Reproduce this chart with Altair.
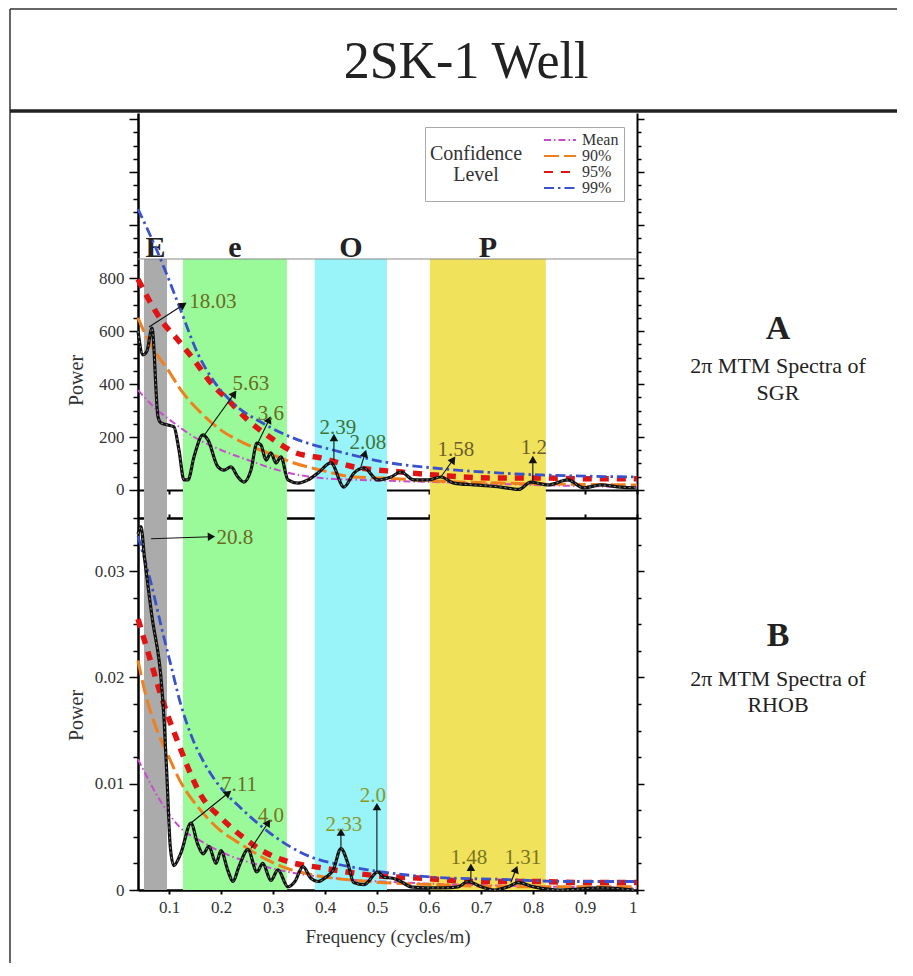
import math
import altair as alt
import pandas as pd

SERIF = "Liberation Serif"

# ---------------- data ----------------
# SGR spectrum (panel A)
top_freq = [0.040, 0.0496, 0.0573, 0.0669, 0.0785, 0.0842, 0.0977, 0.1092, 0.1188, 0.1285,
            0.1362, 0.1477, 0.165, 0.1746, 0.1938, 0.2054, 0.2188, 0.2323, 0.2438, 0.2573,
            0.2688, 0.2765, 0.2862, 0.2958, 0.3054, 0.315, 0.3285, 0.3477, 0.3669, 0.3862,
            0.4112, 0.4362, 0.4554, 0.4746, 0.5015, 0.5265, 0.5458, 0.5708, 0.5977, 0.6227,
            0.6477, 0.6862, 0.7381, 0.7727, 0.7958, 0.8285, 0.8669, 0.8977, 0.9304, 0.9688, 0.9977]
top_power = [600, 510, 525, 611, 276, 253, 245, 238, 151, 38,
             38, 125, 208, 189, 87, 75, 87, 49, 30, 75,
             177, 170, 113, 140, 102, 125, 38, 26, 38, 64,
             102, 11, 64, 83, 38, 49, 68, 38, 38, 49,
             26, 19, 11, 2, 30, 19, 38, 8, 19, 11, 8]

# RHOB spectrum (panel B)
bot_freq = [0.040, 0.0458, 0.052, 0.0667, 0.0859, 0.0904, 0.0962, 0.1019, 0.1087, 0.1227,
            0.1419, 0.155, 0.165, 0.1765, 0.19, 0.1996, 0.2131, 0.2227, 0.2342, 0.2515,
            0.2688, 0.28, 0.2958, 0.3092, 0.3285, 0.3419, 0.3573, 0.3727, 0.3862, 0.4015,
            0.4158, 0.4304, 0.4438, 0.455, 0.475, 0.5015, 0.5131, 0.53, 0.5458, 0.565,
            0.5977, 0.6285, 0.6554, 0.675, 0.70, 0.725, 0.752, 0.7708, 0.8015, 0.8535, 0.93, 0.9938]
bot_power = [0.0335, 0.0342, 0.0315, 0.0258, 0.0190, 0.0158, 0.0101, 0.0042, 0.0023, 0.0035,
             0.0063, 0.0043, 0.0034, 0.0041, 0.0025, 0.0037, 0.0018, 0.0008, 0.0022, 0.0038,
             0.0017, 0.0025, 0.0009, 0.0019, 0.0003, 0.0008, 0.0022, 0.0011, 0.0008, 0.0012,
             0.0019, 0.0039, 0.0025, 0.0007, 0.0005, 0.0017, 0.0012, 0.0011, 0.0008, 0.0003,
             0.0002, 0.0002, 0.0003, 0.0008, 0.0003, 0.0, 0.0003, 0.0007, 0.0003, 0.0, 0.0002, 0.0]

# confidence levels, panel A
top_mean_f = [0.04, 0.0708, 0.1092, 0.1477, 0.1996, 0.2515, 0.3092, 0.3919, 0.4688, 0.6092, 0.8015, 1.0]
top_mean_p = [377, 313, 253, 200, 151, 113, 75, 45, 38, 30, 19, 11]
top_90_f = [0.04, 0.0458, 0.0708, 0.0977, 0.1227, 0.1612, 0.1996, 0.2438, 0.29, 0.34, 0.3919, 0.4554, 0.5131, 0.6092, 0.7381, 1.0]
top_90_p = [650, 623, 528, 453, 377, 291, 226, 177, 140, 102, 75, 49, 45, 34, 26, 19]
top_95_f = [0.04, 0.0612, 0.0842, 0.1169, 0.1477, 0.1804, 0.2131, 0.2515, 0.3015, 0.34, 0.3919, 0.4554, 0.5458, 0.6362, 0.7323, 0.8208, 0.9112, 1.0]
top_95_p = [795, 717, 642, 566, 491, 404, 340, 264, 189, 143, 121, 87, 68, 53, 45, 45, 42, 42]
top_99_f = [0.04, 0.065, 0.09, 0.12, 0.155, 0.186, 0.219, 0.282, 0.348, 0.417, 0.513, 0.609, 0.738, 1.0]
top_99_p = [1060, 955, 840, 690, 515, 410, 335, 250, 189, 150, 106, 83, 64, 49]

# confidence levels, panel B
bot_mean_f = [0.04, 0.0842, 0.1227, 0.1612, 0.2131, 0.2765, 0.34, 0.42, 0.55, 0.75, 1.0]
bot_mean_p = [0.0123, 0.0083, 0.0058, 0.0046, 0.0033, 0.0023, 0.0016, 0.0011, 0.0007, 0.0004, 0.0002]
bot_90_f = [0.04, 0.0515, 0.0708, 0.0977, 0.1227, 0.1554, 0.1938, 0.2381, 0.2823, 0.3285, 0.3785, 0.4823, 0.6092, 0.8015, 1.0]
bot_90_p = [0.0216, 0.0190, 0.0158, 0.0127, 0.0101, 0.0078, 0.0058, 0.0043, 0.0030, 0.0020, 0.0014, 0.0008, 0.0005, 0.0003, 0.0003]
bot_95_f = [0.04, 0.0554, 0.0688, 0.0842, 0.0996, 0.1169, 0.1362, 0.1612, 0.1996, 0.2438, 0.2823, 0.3342, 0.3919, 0.4881, 0.59, 0.6938, 0.7958, 0.8977, 1.0]
bot_95_p = [0.0255, 0.0230, 0.0208, 0.0183, 0.0161, 0.0139, 0.0115, 0.0089, 0.0068, 0.0049, 0.0036, 0.0026, 0.0021, 0.0014, 0.0011, 0.0008, 0.0008, 0.0007, 0.0007]
bot_99_f = [0.04, 0.065, 0.0842, 0.1035, 0.1227, 0.1419, 0.1669, 0.1996, 0.2381, 0.2823, 0.3285, 0.3785, 0.4169, 0.4823, 0.6092, 0.7381, 0.8669, 1.0]
bot_99_p = [0.0333, 0.0289, 0.0249, 0.0211, 0.0174, 0.0146, 0.0120, 0.0096, 0.0077, 0.0058, 0.0042, 0.0030, 0.0025, 0.0019, 0.0012, 0.0010, 0.0008, 0.0008]

levels = ["Mean", "90%", "95%", "99%"]
level_colors = ["#c84bd0", "#f0801e", "#e01414", "#3a52cc"]
level_dash = [[7, 3, 1.5, 3], [15, 5], [9, 8], [10, 4, 2.5, 4]]
level_width = [2.0, 3.0, 5.5, 2.8]

# frequency bands
band_names = ["E", "e", "O", "P"]
band_start = [0.0515, 0.1265, 0.380, 0.6015]
band_end = [0.0958, 0.3265, 0.519, 0.8246]
band_colors = ["#ababab", "#9afa9a", "#98f4f8", "#f1e25c"]

# period annotations (m), panel A
top_ann_text = ["18.03", "5.63", "3.6", "2.39", "2.08", "1.58", "1.2"]
top_ann_f0 = [0.0612, 0.165, 0.2688, 0.4169, 0.4688, 0.6227, 0.7996]
top_ann_p0 = [615, 200, 170, 113, 87, 49, 26]
top_ann_f1 = [0.1265, 0.2246, 0.2919, 0.4169, 0.4765, 0.6458, 0.7996]
top_ann_p1 = [698, 362, 264, 196, 136, 113, 113]
top_ann_tf = [0.1842, 0.2573, 0.2958, 0.4246, 0.4823, 0.6515, 0.8015]
top_ann_tp = [709, 400, 287, 234, 177, 151, 159]
top_ann_col = ["#6b6a1f", "#6b6a1f", "#6b6a1f", "#3f7436", "#3f7436", "#6b5e2a", "#6b5e2a"]

# period annotations (m), panel B
bot_ann_text = ["20.8", "7.11", "4.0", "2.33", "2.0", "1.48", "1.31"]
bot_ann_f0 = [0.065, 0.1419, 0.2573, 0.4304, 0.4996, 0.6804, 0.7573]
bot_ann_p0 = [0.03305, 0.0063, 0.0039, 0.0040, 0.0017, 0.0009, 0.0007]
bot_ann_f1 = [0.1804, 0.2131, 0.29, 0.4304, 0.4996, 0.6804, 0.7669]
bot_ann_p1 = [0.03324, 0.0091, 0.0063, 0.0054, 0.0078, 0.0021, 0.0019]
bot_ann_tf = [0.2265, 0.2342, 0.2958, 0.4362, 0.4919, 0.6765, 0.7804]
bot_ann_tp = [0.03315, 0.0099, 0.0070, 0.0061, 0.0088, 0.0030, 0.0030]
bot_ann_col = ["#6b6a1f", "#6b6a1f", "#7a7420", "#8a9a2a", "#8a9a2a", "#7a7420", "#7a7420"]

x_ticks = [0.1, 0.2, 0.3, 0.4, 0.5, 0.6, 0.7, 0.8, 0.9, 1.0]
top_ticks = list(range(0, 1401, 50))
bot_ticks = [i * 0.0025 for i in range(15)]

# ---------------- layout ----------------
W, H = 499, 777
X_DOMAIN = [0.04, 1.0]
TOP_DOMAIN = [-105.7, 1422.8]
TOP_RANGE = [405, 0]
BOT_DOMAIN = [0.0, 0.035]
BOT_RANGE = [777, 405]
KX = W / (X_DOMAIN[1] - X_DOMAIN[0])
KY_TOP = (TOP_RANGE[0] - TOP_RANGE[1]) / (TOP_DOMAIN[1] - TOP_DOMAIN[0])
KY_BOT = (BOT_RANGE[0] - BOT_RANGE[1]) / (BOT_DOMAIN[1] - BOT_DOMAIN[0])

xsc = alt.Scale(domain=X_DOMAIN, nice=False, zero=False)
ysc_top = alt.Scale(domain=TOP_DOMAIN, range=TOP_RANGE, nice=False, zero=False)
ysc_bot = alt.Scale(domain=BOT_DOMAIN, range=BOT_RANGE, nice=False, zero=False)

color_scale = alt.Scale(domain=levels, range=level_colors)
dash_scale = alt.Scale(domain=levels, range=level_dash)

legend = alt.Legend(
    title=["Confidence", "Level"], orient="none", legendX=287, legendY=14,
    titleOrient="left", titleFont=SERIF, titleFontSize=20, titleFontWeight="normal",
    titleColor="#333", titleAlign="center", titlePadding=-17, titleLineHeight=21,
    labelFont=SERIF, labelFontSize=16, labelColor="#333", labelOffset=14,
    symbolType="M-2.67,0H2.67", symbolSize=144, symbolStrokeWidth=2,
    strokeColor="#aaaaaa", fillColor="white", padding=5, rowPadding=0,
)


def conf_frame(parts):
    rows = []
    for lev, fs, ps in parts:
        for f, p in zip(fs, ps):
            rows.append({"f": f, "P": p, "level": lev})
    return pd.DataFrame(rows)


def arrow_frame(text, f0, p0, f1, p1, tf, tp, col, ky):
    ang = []
    for a, b, c, d in zip(f0, p0, f1, p1):
        dx = (c - a) * KX
        dy = -(d - b) * ky
        ang.append(math.degrees(math.atan2(dx, -dy)) % 360)
    return pd.DataFrame({"text": text, "f0": f0, "p0": p0, "f1": f1, "p1": p1,
                         "tf": tf, "tp": tp, "col": col, "ang": ang})


axis_common = dict(grid=False, domainColor="black", tickColor="black",
                   labelFont=SERIF, labelColor="#333", titleFont=SERIF,
                   titleFontWeight="normal", titleColor="#333")


def panel(spec_f, spec_p, conf_df, ann_df, ysc, yticks, major_test, label_expr,
          ytitle, ytitle_y, xaxis_conf, xaxis_spec):
    spec_df = pd.DataFrame({"f": spec_f, "P": spec_p})
    left_axis = alt.Axis(orient="left", values=yticks, labelExpr=label_expr,
                         tickSize={"condition": {"test": major_test, "value": 9}, "value": 5},
                         tickWidth=1.5, domainWidth=2.5, labelFontSize=17, labelPadding=5,
                         title=ytitle, titleFontSize=20, titleX=-52, titleY=ytitle_y,
                         **axis_common)
    right_axis = alt.Axis(orient="right", values=yticks, labels=False,
                          tickSize={"condition": {"test": major_test, "value": 7}, "value": 4},
                          tickWidth=1.5, domainWidth=2, title=None, **axis_common)
    layers = []
    for i, lev in enumerate(levels):
        layers.append(
            alt.Chart(conf_df).transform_filter(alt.datum.level == lev)
            .mark_line(interpolate="monotone", strokeWidth=level_width[i])
            .encode(
                x=alt.X("f:Q", scale=xsc, axis=xaxis_conf if i == 0 else None, title=None),
                y=alt.Y("P:Q", scale=ysc, axis=left_axis if i == 0 else None),
                color=alt.Color("level:N", scale=color_scale, legend=legend),
                strokeDash=alt.StrokeDash("level:N", scale=dash_scale, legend=legend),
            )
        )
    spec_under = alt.Chart(spec_df).mark_line(interpolate="monotone", color="#111",
                                              strokeWidth=3.2).encode(
        x=alt.X("f:Q", scale=xsc, axis=xaxis_spec, title=None),
        y=alt.Y("P:Q", scale=ysc, axis=right_axis),
    )
    spec_over = alt.Chart(spec_df).mark_line(interpolate="monotone", color="#8a8a8a",
                                             strokeWidth=1, strokeDash=[2, 3]).encode(
        x=alt.X("f:Q", scale=xsc, axis=None),
        y=alt.Y("P:Q", scale=ysc, axis=None),
    )
    arrows = alt.Chart(ann_df).mark_rule(color="#111", strokeWidth=1.1).encode(
        x=alt.X("f0:Q", scale=xsc, axis=None), x2="f1:Q",
        y=alt.Y("p0:Q", scale=ysc, axis=None), y2="p1:Q",
    )
    heads = alt.Chart(ann_df).mark_point(shape="triangle-up", filled=True, size=26,
                                         fill="#111", stroke="#111", opacity=1).encode(
        x=alt.X("f1:Q", scale=xsc, axis=None),
        y=alt.Y("p1:Q", scale=ysc, axis=None),
        angle=alt.Angle("ang:Q", scale=None),
    )
    labels = alt.Chart(ann_df).mark_text(font=SERIF, fontSize=21, align="center",
                                         baseline="middle").encode(
        x=alt.X("tf:Q", scale=xsc, axis=None),
        y=alt.Y("tp:Q", scale=ysc, axis=None),
        text="text:N",
        fill=alt.Fill("col:N", scale=None, legend=None),
    )
    return alt.layer(*layers, spec_under, spec_over, arrows, heads, labels).resolve_axis(
        x="independent", y="independent")


top_conf = conf_frame([("Mean", top_mean_f, top_mean_p), ("90%", top_90_f, top_90_p),
                       ("95%", top_95_f, top_95_p), ("99%", top_99_f, top_99_p)])
bot_conf = conf_frame([("Mean", bot_mean_f, bot_mean_p), ("90%", bot_90_f, bot_90_p),
                       ("95%", bot_95_f, bot_95_p), ("99%", bot_99_f, bot_99_p)])
top_ann = arrow_frame(top_ann_text, top_ann_f0, top_ann_p0, top_ann_f1, top_ann_p1,
                      top_ann_tf, top_ann_tp, top_ann_col, KY_TOP)
bot_ann = arrow_frame(bot_ann_text, bot_ann_f0, bot_ann_p0, bot_ann_f1, bot_ann_p1,
                      bot_ann_tf, bot_ann_tp, bot_ann_col, KY_BOT)

xaxis_top_panel = alt.Axis(orient="bottom", offset=-400, values=x_ticks, labels=False,
                           tickSize=4, tickWidth=2, domainWidth=2, title=None, **axis_common)
xaxis_top_of_bottom = alt.Axis(orient="top", offset=-405, values=x_ticks, labels=False,
                               tickSize=4, tickWidth=2, domainWidth=2.5, title=None, **axis_common)
xaxis_main = alt.Axis(orient="bottom", values=x_ticks, format="~g", labelFontSize=17,
                      labelPadding=5, tickSize=4, tickWidth=2, domainWidth=2.5,
                      title="Frequency (cycles/m)", titleFontSize=19, titlePadding=12,
                      **axis_common)

top_group = panel(top_freq, top_power, top_conf, top_ann, ysc_top, top_ticks,
                  "datum.value % 200 === 0",
                  "datum.value % 200 === 0 && datum.value <= 800 ? datum.label : ''",
                  "Power", 267, xaxis_top_panel, None)
bot_group = panel(bot_freq, bot_power, bot_conf, bot_ann, ysc_bot, bot_ticks,
                  "round(datum.value * 10000) % 100 === 0",
                  "round(datum.value * 10000) % 100 === 0 ? format(datum.value, '.2~f') : ''",
                  "Power", 602, xaxis_main, xaxis_top_of_bottom)

band_df = pd.DataFrame({"name": band_names, "start": band_start, "end": band_end,
                        "color": band_colors})
band_df["mid"] = (band_df["start"] + band_df["end"]) / 2

bands = alt.Chart(band_df).mark_rect().encode(
    x=alt.X("start:Q", scale=xsc, axis=None), x2="end:Q",
    y=alt.value(146), y2=alt.value(H),
    fill=alt.Fill("color:N", scale=None, legend=None),
)
band_letters = alt.Chart(band_df).mark_text(font=SERIF, fontSize=30, fontWeight="bold",
                                            baseline="alphabetic", fill="#222").encode(
    x=alt.X("mid:Q", scale=xsc, axis=None), y=alt.value(144), text="name:N",
)

one = pd.DataFrame({"k": [0]})
band_top_line = alt.Chart(one).mark_rule(color="#888", strokeWidth=1).encode(
    x=alt.value(0), x2=alt.value(W), y=alt.value(146))
frame_top = alt.Chart(one).mark_rule(color="#333", strokeWidth=1.5).encode(
    x=alt.value(-128), x2=alt.value(759), y=alt.value(-104))
frame_left = alt.Chart(one).mark_rule(color="#333", strokeWidth=1.5).encode(
    x=alt.value(-128), y=alt.value(-104), y2=alt.value(850))
thick_line = alt.Chart(one).mark_rule(color="#222", strokeWidth=3.5).encode(
    x=alt.value(-128), x2=alt.value(759), y=alt.value(-2))
title = alt.Chart(one).mark_text(text="2SK-1 Well", font=SERIF, fontSize=52,
                                 align="center", baseline="alphabetic", fill="#222").encode(
    x=alt.value(328), y=alt.value(-35))

side_texts = ["A", "2π MTM Spectra of", "SGR", "B", "2π MTM Spectra of", "RHOB"]
side_y = [226, 260, 287, 533, 573, 599]
side_bold = [True, False, False, True, False, False]
side_layers = []
for t, yy, b in zip(side_texts, side_y, side_bold):
    side_layers.append(
        alt.Chart(one).mark_text(text=t, font=SERIF, fontSize=34 if b else 22,
                                 fontWeight="bold" if b else "normal", align="center",
                                 baseline="alphabetic", fill="#222").encode(
            x=alt.value(640), y=alt.value(yy)))

chart = alt.layer(
    bands, band_top_line, band_letters, top_group, bot_group,
    frame_top, frame_left, thick_line, title, *side_layers,
).resolve_scale(y="independent").resolve_axis(x="independent", y="independent").properties(
    width=W, height=H, padding=0, background="white"
).configure_view(stroke=None)

chart.save("out.html", embed_options={"renderer": "svg", "actions": False})
